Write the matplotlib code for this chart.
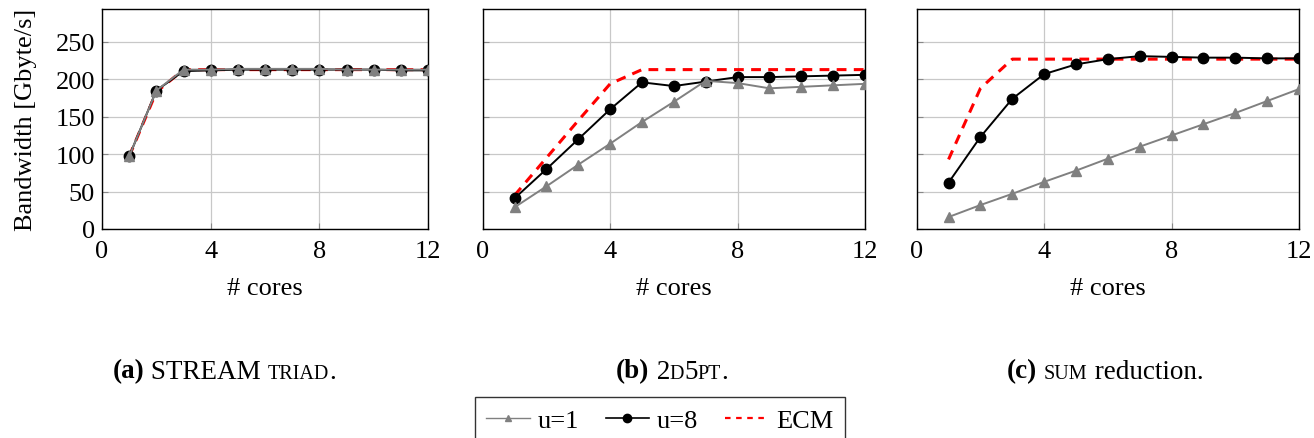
import numpy as np
from matplotlib import pyplot as plt
from matplotlib.offsetbox import TextArea, HPacker, AnnotationBbox

# data
cores = list(range(1, 13))

triad_u1 = [97, 185, 213, 213, 214, 214, 214, 214, 213, 213, 213, 213]
triad_u8 = [97, 185, 211, 212, 213, 213, 213, 213, 213, 213, 212, 212]
triad_ecm = [97, 183, 213, 213, 213, 213, 213, 213, 213, 213, 213, 213]

d2d5pt_u1 = [29, 57, 86, 114, 143, 170, 198, 195, 188, 190, 192, 194]
d2d5pt_u8 = [41, 80, 120, 160, 196, 191, 197, 203, 203, 204, 205, 206]
d2d5pt_ecm = [45, 95, 145, 194, 213, 213, 213, 213, 213, 213, 213, 213]

sum_u1 = [16, 32, 47, 63, 78, 94, 110, 125, 140, 155, 171, 187]
sum_u8 = [62, 123, 174, 207, 220, 227, 231, 230, 229, 229, 228, 228]
sum_ecm = [93, 188, 227, 227, 227, 227, 227, 227, 227, 227, 227, 227]

x_ticks = [0, 4, 8, 12]
y_ticks = [0, 50, 100, 150, 200, 250]

plt.rcParams['font.family'] = ['Liberation Serif', 'DejaVu Serif']
plt.rcParams['font.size'] = 19

fig = plt.figure(figsize=(13.14, 4.39), dpi=100)
W, H = 1314, 439
boxes = [(102, 428), (482.7, 865), (916.7, 1299)]
top, bottom = 10, 230

panels = [
    (triad_u1, triad_u8, triad_ecm),
    (d2d5pt_u1, d2d5pt_u8, d2d5pt_ecm),
    (sum_u1, sum_u8, sum_ecm),
]

dash = (0, (3.2, 2.4))
for i, ((l, r), (u1, u8, ecm)) in enumerate(zip(boxes, panels)):
    ax = fig.add_axes([l / W, 1 - bottom / H, (r - l) / W, (bottom - top) / H])
    ax.plot(cores, ecm, color='red', ls=dash, lw=2.2, zorder=2)
    ax.plot(cores, u8, color='black', lw=1.4, marker='o', ms=7.5, zorder=3)
    ax.plot(cores, u1, color='#808080', lw=1.4, marker='^', ms=7, zorder=4)
    ax.set_xlim(0, 12)
    ax.set_ylim(0, 294)
    ax.set_xticks(x_ticks)
    ax.set_yticks(y_ticks)
    ax.grid(True, color='#c8c8c8', lw=0.9)
    ax.set_axisbelow(True)
    ax.tick_params(direction='in', length=4, color='#888888', labelsize=19)
    ax.tick_params(axis='x', pad=8)
    ax.tick_params(axis='y', pad=5)
    ax.set_xlabel('# cores', fontsize=19, labelpad=11)
    for s in ax.spines.values():
        s.set_linewidth(1.0)
    if i == 0:
        ax.set_ylabel('Bandwidth [Gbyte/s]', fontsize=19, labelpad=13)
    else:
        ax.tick_params(labelleft=False)

# captions with small caps
big, small = 19.5, 14.5
captions = [
    [('(a)', big, 'bold'), (' STREAM ', big, 'normal'), ('TRIAD', small, 'normal'), ('.', big, 'normal')],
    [('(b)', big, 'bold'), (' 2', big, 'normal'), ('D', small, 'normal'), ('5', big, 'normal'),
     ('PT', small, 'normal'), ('.', big, 'normal')],
    [('(c)', big, 'bold'), (' ', big, 'normal'), ('SUM', small, 'normal'), (' reduction.', big, 'normal')],
]
caption_x = [224, 672, 1105]
for cx, parts in zip(caption_x, captions):
    areas = [TextArea(t, textprops=dict(fontsize=fs, fontweight=fw)) for t, fs, fw in parts]
    pack = HPacker(children=areas, align='baseline', pad=0, sep=0)
    ab = AnnotationBbox(pack, (cx / W, 1 - 372 / H), xycoords='figure fraction',
                        box_alignment=(0.5, 0.5), frameon=False)
    fig.add_artist(ab)

handles = [
    plt.Line2D([], [], color='#808080', lw=1.0, marker='^', ms=5),
    plt.Line2D([], [], color='black', lw=1.2, marker='o', ms=6),
    plt.Line2D([], [], color='red', ls=(0, (2.5, 2.5)), lw=1.6),
]
leg = fig.legend(handles, ['u=1', 'u=8', 'ECM'], loc='upper center', bbox_to_anchor=(660 / W, 1 - 398 / H),
                 ncol=3, fontsize=19, frameon=True, fancybox=False, edgecolor='black',
                 handlelength=1.65, handletextpad=0.3, columnspacing=1.0, borderpad=0.45,
                 borderaxespad=0)
leg.get_frame().set_linewidth(1.0)

plt.savefig('out.png', dpi=100)
